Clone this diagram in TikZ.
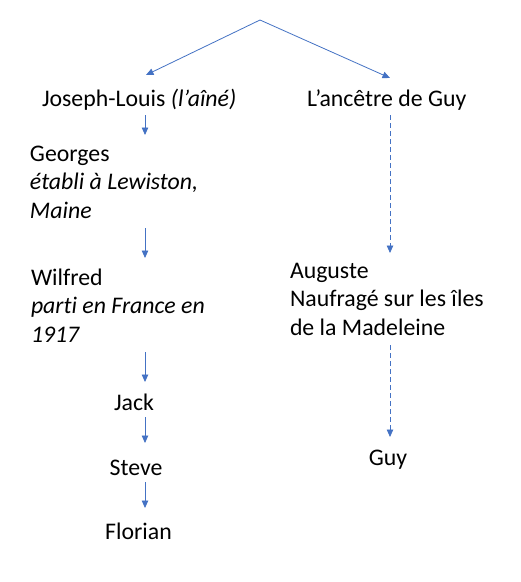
\documentclass[tikz,border=0pt]{standalone}
\usepackage{fontspec}
\setmainfont{Carlito}[Ligatures=NoCommon]
\usetikzlibrary{arrows.meta}
\definecolor{arrblue}{HTML}{4472C4}
\tikzset{
  txt/.style={anchor=north west, inner sep=0pt, outer sep=0pt, align=left,
    font=\fontsize{23.8}{28.7}\selectfont,
    execute at begin node=\strut, execute at end node=\strut},
  arr/.style={draw=arrblue, line width=0.8pt,
    -{Triangle[length=7.5pt,width=6.5pt]}},
  darr/.style={arr, dash pattern=on 5pt off 3pt},
}
\begin{document}
\begin{tikzpicture}[x=1pt,y=-1pt]
\useasboundingbox[fill=white] (0,0) rectangle (521,582);
% columns
\coordinate (colL) at (145,0);
\coordinate (colR) at (390,0);
\coordinate (top) at (260,20);
\coordinate (tipL) at (146,75);
\coordinate (tipR) at (390,78);
% nodes
\node[txt] (jl) at (42,86.4) {Joseph-Louis \textit{(l’aîné)}};
\node[txt] (anc) at (307,86.4) {L’ancêtre de Guy};
\node[txt] (geo) at (30,145.6) {Georges\\\textit{établi à Lewiston,}\\\textit{Maine}};
\node[txt] (wil) at (31,268.6) {Wilfred\\\textit{parti en France en}\\\textit{1917}};
\node[txt, anchor=north] (jack) at (134,390.9) {Jack};
\node[txt, anchor=north] (steve) at (136,455.6) {Steve};
\node[txt, anchor=north] (flo) at (138.5,519.6) {Florian};
\node[txt] (aug) at (290,262.9) {Auguste\\Naufragé sur les îles\\de la Madeleine};
\node[txt, anchor=north] (guy) at (388,445.6) {Guy};
% connectors
\draw[arr] (top) -- (tipL);
\draw[arr] (top) -- (tipR);
\draw[arr, shorten <=0pt, shorten >=10.6pt] (jl.south -| colL) -- (geo.north -| colL);
\draw[arr, shorten <=1.3pt, shorten >=10.6pt] (geo.south -| colL) -- (wil.north -| colL);
\draw[arr, shorten <=1.3pt, shorten >=8.9pt] (wil.south -| colL) -- (jack.north -| colL);
\draw[arr, shorten <=-2.6pt, shorten >=12.6pt] (jack.south -| colL) -- (steve.north -| colL);
\draw[arr, shorten <=-2.3pt, shorten >=11.6pt] (steve.south -| colL) -- (flo.north -| colL);
\draw[darr, shorten <=0pt, shorten >=9.9pt] (anc.south -| colR) -- (aug.north -| colR);
\draw[darr, shorten <=1pt, shorten >=8.6pt] (aug.south -| colR) -- (guy.north -| colR);
\end{tikzpicture}
\end{document}
